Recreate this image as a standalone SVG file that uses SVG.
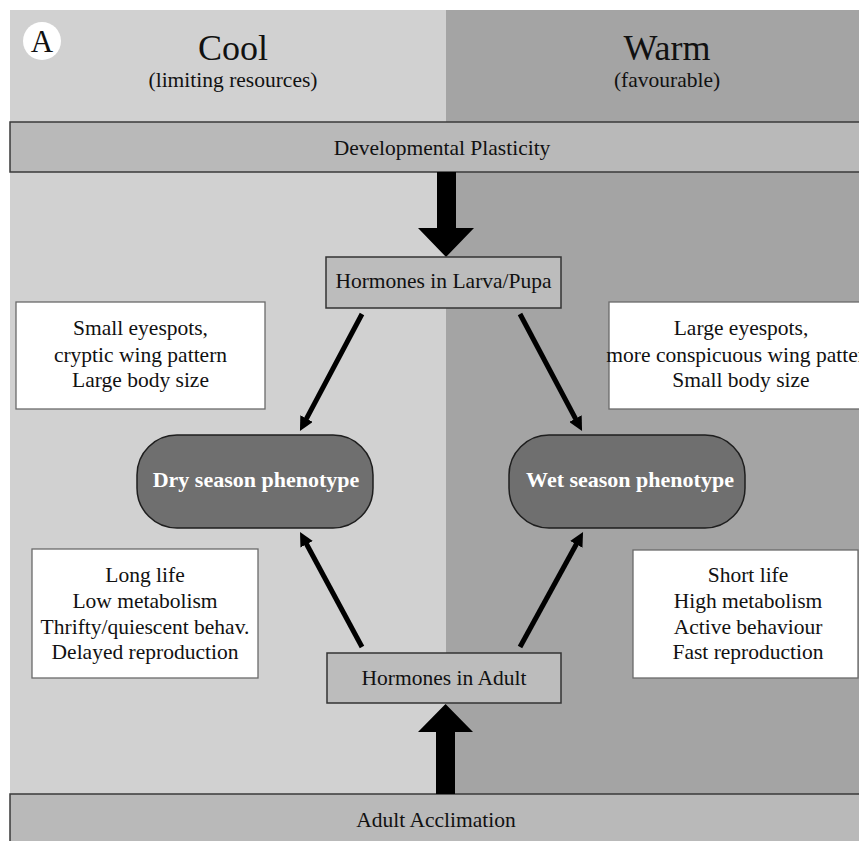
<svg xmlns="http://www.w3.org/2000/svg" width="859" height="841" viewBox="0 0 859 841">
<defs>
<style>
text{font-family:"Liberation Serif","Times New Roman",serif;fill:#111;text-anchor:middle}
.body{font-size:21.5px}
.title{font-size:36px}
.pill-t{font-size:22px;font-weight:bold;fill:#fff}
.bar{fill:#b9b9b9;stroke:#3a3a3a;stroke-width:1.5}
.hbox{fill:#bcbcbc;stroke:#333;stroke-width:1.5}
.wbox{fill:#fff;stroke:#6a6a6a;stroke-width:1.3}
.pill{fill:#6f6f6f;stroke:#1e1e1e;stroke-width:1.5}
.conn{stroke:#000;stroke-width:5;fill:none;marker-end:url(#ah)}
</style>
<marker id="ah" viewBox="0 0 14 14" refX="6" refY="7" markerWidth="14" markerHeight="14" markerUnits="userSpaceOnUse" orient="auto">
<path d="M0,0 L14,7 L0,14 z" fill="#000"/>
</marker>
</defs>
<rect x="0" y="0" width="859" height="841" fill="#fff"/>
<g id="background">
<rect x="10" y="10" width="436" height="831" fill="#d1d1d1"/>
<rect x="446" y="10" width="413" height="831" fill="#a4a4a4"/>
</g>
<g id="label-A">
<circle cx="42" cy="41" r="19" fill="#fff"/>
<text x="42" y="52" style="font-size:31px">A</text>
</g>
<g id="header-cool">
<text class="title" x="233" y="60">Cool</text>
<text class="body" x="233" y="87">(limiting resources)</text>
</g>
<g id="header-warm">
<text class="title" x="667" y="60">Warm</text>
<text class="body" x="667" y="87">(favourable)</text>
</g>
<g id="developmental-plasticity">
<rect class="bar" x="10" y="122" width="860" height="50"/>
<text class="body" x="442" y="155">Developmental Plasticity</text>
</g>
<g id="adult-acclimation">
<rect class="bar" x="10" y="794" width="860" height="60"/>
<text class="body" x="436" y="827">Adult Acclimation</text>
</g>
<g id="connectors">
<polygon points="437,172 456,172 456,228 474,228 446,257 418,228 437,228" fill="#000"/>
<polygon points="436,794 455,794 455,732 473,732 445.5,704 418,732 436,732" fill="#000"/>
<line class="conn" x1="362" y1="314" x2="303.7" y2="423.9"/>
<line class="conn" x1="520" y1="314" x2="578.3" y2="423.9"/>
<line class="conn" x1="362" y1="647" x2="303.8" y2="539"/>
<line class="conn" x1="520" y1="647" x2="579.2" y2="539"/>
</g>
<g id="hormones-larva">
<rect class="hbox" x="326" y="257" width="235" height="51"/>
<text class="body" x="443.5" y="288">Hormones in Larva/Pupa</text>
</g>
<g id="hormones-adult">
<rect class="hbox" x="327" y="653" width="234" height="50"/>
<text class="body" x="444" y="685">Hormones in Adult</text>
</g>
<g id="dry-traits-top">
<rect class="wbox" x="16" y="302" width="249" height="107"/>
<text class="body" x="140.5" y="335">Small eyespots,</text>
<text class="body" x="140.5" y="362">cryptic wing pattern</text>
<text class="body" x="140.5" y="387">Large body size</text>
</g>
<g id="wet-traits-top">
<rect class="wbox" x="609" y="302" width="264" height="107"/>
<text class="body" x="741" y="335">Large eyespots,</text>
<text class="body" x="741" y="362">more conspicuous wing pattern</text>
<text class="body" x="741" y="387">Small body size</text>
</g>
<g id="dry-phenotype">
<rect class="pill" x="137" y="435" width="236" height="93" rx="40" ry="40"/>
<text class="pill-t" x="256" y="487">Dry season phenotype</text>
</g>
<g id="wet-phenotype">
<rect class="pill" x="509" y="435" width="236" height="93" rx="40" ry="40"/>
<text class="pill-t" x="630" y="487">Wet season phenotype</text>
</g>
<g id="dry-traits-bottom">
<rect class="wbox" x="32" y="549" width="226" height="129"/>
<text class="body" x="145" y="582">Long life</text>
<text class="body" x="145" y="608">Low metabolism</text>
<text class="body" x="145" y="634">Thrifty/quiescent behav.</text>
<text class="body" x="145" y="659">Delayed reproduction</text>
</g>
<g id="wet-traits-bottom">
<rect class="wbox" x="633" y="550" width="225" height="128"/>
<text class="body" x="748" y="582">Short life</text>
<text class="body" x="748" y="608">High metabolism</text>
<text class="body" x="748" y="634">Active behaviour</text>
<text class="body" x="748" y="659">Fast reproduction</text>
</g>
</svg>
